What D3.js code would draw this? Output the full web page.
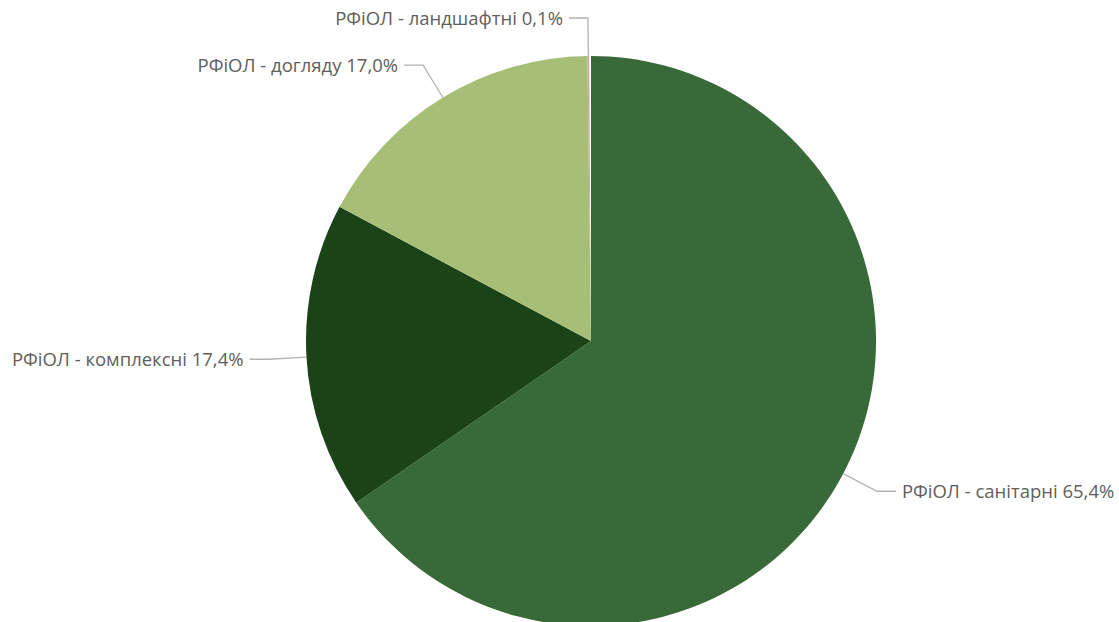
<!DOCTYPE html>
<html>
<head>
<meta charset="utf-8">
<script src="https://cdn.jsdelivr.net/npm/d3@7"></script>
<style>
  html, body { margin: 0; padding: 0; background: #ffffff; overflow: hidden; }
  svg { display: block; }
  text { font-family: "Open Sans", "Noto Sans", sans-serif; }
</style>
</head>
<body>
<svg id="chart" width="1119" height="622"></svg>
<script>
// Categories and their shares (%)
const categories = [
  "РФіОЛ - санітарні",
  "РФіОЛ - комплексні",
  "РФіОЛ - догляду",
  "РФіОЛ - ландшафтні"
];
const shares = [65.4, 17.4, 17.0, 0.1];
const shareLabels = ["65,4%", "17,4%", "17,0%", "0,1%"];
const colors = ["#386938", "#1b4318", "#a6be76", "#c9a9a0"];

const width = 1119, height = 622;
const cx = 591, cy = 341, radius = 285;

const svg = d3.select("#chart");
const g = svg.append("g").attr("transform", `translate(${cx},${cy})`);

const data = categories.map((c, i) => ({ name: c, value: shares[i], label: shareLabels[i], color: colors[i] }));

const total = d3.sum(shares);
const pie = d3.pie()
  .value(d => d.value)
  .sort(null)
  .startAngle(0)
  .endAngle(2 * Math.PI * total / 100);

const arc = d3.arc().innerRadius(0).outerRadius(radius);

const arcs = pie(data);

g.selectAll("path.slice")
  .data(arcs)
  .join("path")
  .attr("class", "slice")
  .attr("d", arc)
  .attr("fill", d => d.data.color);

// Leader lines and labels
const elbowR = radius + 38;
const hLen = 19;

function pt(angle, r) {
  return [r * Math.sin(angle), -r * Math.cos(angle)];
}

arcs.forEach(d => {
  const mid = (d.startAngle + d.endAngle) / 2;
  const p0 = pt(mid, radius);
  const p1 = pt(mid, elbowR);
  const right = Math.sin(mid) > 0.001;
  const p2 = [p1[0] + (right ? hLen : -hLen), p1[1]];
  g.append("polyline")
    .attr("points", [p0, p1, p2].map(p => p.join(",")).join(" "))
    .attr("fill", "none")
    .attr("stroke", "#b3b3b3")
    .attr("stroke-width", 1.3);
  g.append("text")
    .attr("x", p2[0] + (right ? 6 : -6))
    .attr("y", p2[1])
    .attr("dy", "0.35em")
    .attr("text-anchor", right ? "start" : "end")
    .attr("font-size", 18.5)
    .attr("fill", "#605e5c")
    .text(`${d.data.name} ${d.data.label}`);
});
</script>
</body>
</html>
